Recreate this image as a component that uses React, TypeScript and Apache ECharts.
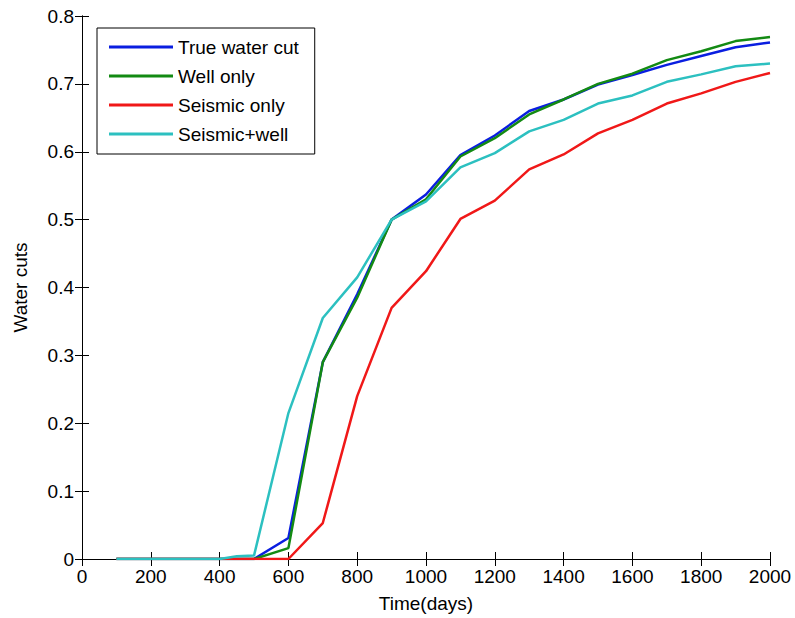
import React, { useEffect, useRef } from "react";
import * as echarts from "echarts";

const seriesNames = ["True water cut", "Well only", "Seismic only", "Seismic+well"];
const seriesColors = ["#0a1ee0", "#138a13", "#f01818", "#2cc0c0"];

const trueWaterCut: [number, number][] = [
  [100, 0], [200, 0], [300, 0], [400, 0], [500, 0], [600, 0.031], [700, 0.29],
  [800, 0.39], [900, 0.5], [1000, 0.537], [1100, 0.595], [1200, 0.624], [1300, 0.66],
  [1400, 0.677], [1500, 0.699], [1600, 0.713], [1700, 0.728], [1800, 0.741],
  [1900, 0.754], [2000, 0.761],
];
const wellOnly: [number, number][] = [
  [100, 0], [200, 0], [300, 0], [400, 0], [500, 0], [600, 0.016], [700, 0.29],
  [800, 0.385], [900, 0.5], [1000, 0.53], [1100, 0.593], [1200, 0.62], [1300, 0.655],
  [1400, 0.677], [1500, 0.7], [1600, 0.715], [1700, 0.735], [1800, 0.748],
  [1900, 0.763], [2000, 0.769],
];
const seismicOnly: [number, number][] = [
  [100, 0], [200, 0], [300, 0], [400, 0], [500, 0], [600, 0], [700, 0.053],
  [800, 0.24], [900, 0.37], [1000, 0.424], [1100, 0.501], [1200, 0.528], [1300, 0.574],
  [1400, 0.596], [1500, 0.627], [1600, 0.647], [1700, 0.671], [1800, 0.686],
  [1900, 0.703], [2000, 0.716],
];
const seismicWell: [number, number][] = [
  [100, 0], [200, 0], [300, 0], [400, 0], [450, 0.004], [500, 0.005], [600, 0.215],
  [700, 0.355], [800, 0.415], [900, 0.5], [1000, 0.527], [1100, 0.577], [1200, 0.598],
  [1300, 0.63], [1400, 0.647], [1500, 0.671], [1600, 0.683], [1700, 0.703],
  [1800, 0.714], [1900, 0.726], [2000, 0.73],
];
const allSeries = [trueWaterCut, wellOnly, seismicOnly, seismicWell];

const xTitle = "Time(days)";
const yTitle = "Water cuts";

const FONT = "'Liberation Sans', Arial, sans-serif";

export default function App() {
  const ref = useRef<HTMLDivElement>(null);
  useEffect(() => {
    if (!ref.current) return;
    const chart = echarts.init(ref.current, null, { renderer: "svg" });
    const tick = { show: true, inside: true, length: 7, lineStyle: { color: "#000", width: 1 } };
    const axLine = { show: true, lineStyle: { color: "#000", width: 1 } };
    chart.setOption({
      animation: false,
      backgroundColor: "#fff",
      textStyle: { fontFamily: FONT },
      grid: { left: 82, right: 25, top: 16, bottom: 59 },
      legend: {
        orient: "vertical",
        left: 97,
        top: 28,
        data: seriesNames,
        icon: "rect",
        itemWidth: 64,
        itemHeight: 3,
        itemGap: 7,
        padding: [8, 16, 9, 12],
        borderColor: "#000",
        borderWidth: 1,
        backgroundColor: "#fff",
        textStyle: { fontSize: 19, lineHeight: 22, color: "#000", fontFamily: FONT },
      },
      xAxis: [
        {
          type: "value",
          min: 0,
          max: 2000,
          interval: 200,
          position: "bottom",
          name: xTitle,
          nameLocation: "middle",
          nameGap: 35,
          nameTextStyle: { fontSize: 19, color: "#000", fontFamily: FONT },
          axisLine: axLine,
          axisTick: tick,
          axisLabel: {
            fontSize: 19,
            color: "#000",
            margin: 8,
            fontFamily: FONT,
            formatter: (v: number) => String(Math.round(v)),
          },
          splitLine: { show: false },
        },
        {
          type: "value",
          min: 0,
          max: 2000,
          interval: 200,
          position: "top",
          axisLine: axLine,
          axisTick: tick,
          axisLabel: { show: false },
          splitLine: { show: false },
        },
      ],
      yAxis: [
        {
          type: "value",
          min: 0,
          max: 0.8,
          interval: 0.1,
          position: "left",
          name: yTitle,
          nameLocation: "middle",
          nameGap: 52,
          nameTextStyle: { fontSize: 19, color: "#000", fontFamily: FONT },
          axisLine: axLine,
          axisTick: tick,
          axisLabel: {
            fontSize: 19,
            color: "#000",
            margin: 8,
            fontFamily: FONT,
            formatter: (v: number) => (v === 0 ? "0" : v.toFixed(1)),
          },
          splitLine: { show: false },
        },
        {
          type: "value",
          min: 0,
          max: 0.8,
          interval: 0.1,
          position: "right",
          axisLine: axLine,
          axisTick: tick,
          axisLabel: { show: false },
          splitLine: { show: false },
        },
      ],
      series: allSeries.map((d, i) => ({
        name: seriesNames[i],
        type: "line",
        data: d,
        xAxisIndex: 0,
        yAxisIndex: 0,
        showSymbol: false,
        symbol: "none",
        color: seriesColors[i],
        lineStyle: { color: seriesColors[i], width: 2.5 },
      })),
    });
    return () => chart.dispose();
  }, []);
  return <div ref={ref} style={{ width: 795, height: 618, position: "fixed", left: 0, top: 0 }} />;
}
